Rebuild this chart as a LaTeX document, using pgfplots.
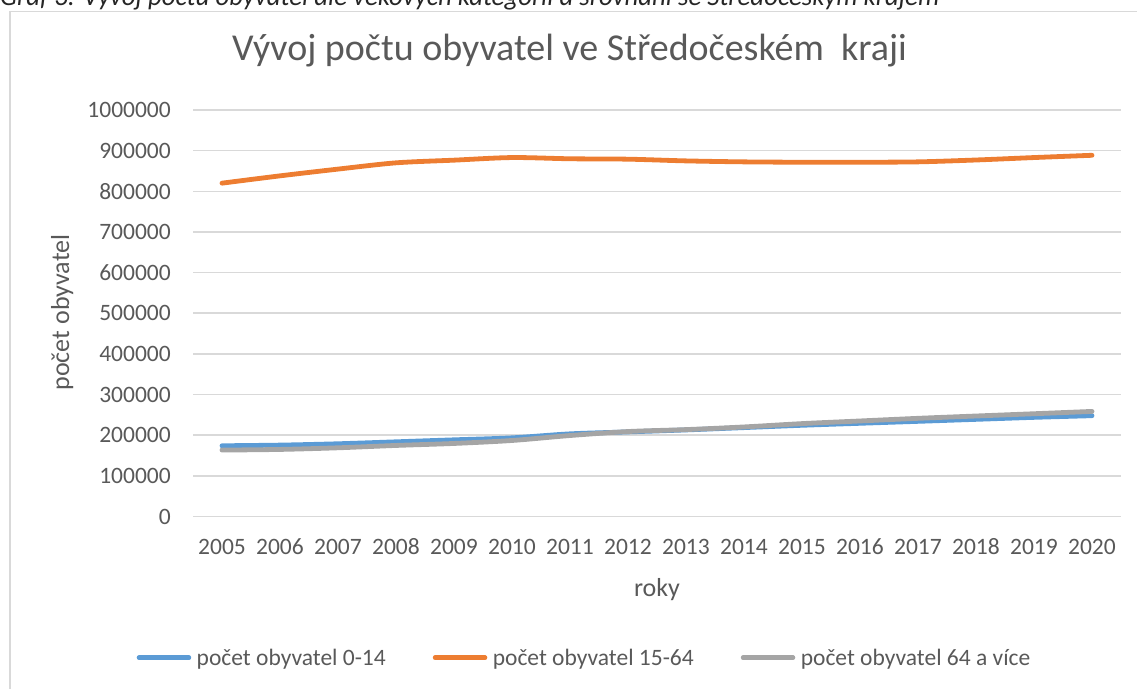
\documentclass[border=0pt]{standalone}
\usepackage{pgfplots}
\pgfplotsset{compat=1.18}
\usepackage{fontspec}
\setmainfont{Carlito}
\definecolor{txt}{HTML}{595959}
\definecolor{gridc}{HTML}{D9D9D9}
\definecolor{sblue}{HTML}{5B9BD5}
\definecolor{sorange}{HTML}{ED7D31}
\definecolor{sgray}{HTML}{A5A5A5}
\begin{document}
\begin{tikzpicture}[x=1pt,y=1pt]
\useasboundingbox (0,0) rectangle (1137,688);
\draw[gridc, line width=1.5pt] (10,-10) -- (10,676.5) -- (1160,676.5);
\node[anchor=base west, inner sep=0pt, font=\fontsize{26.8}{30}\selectfont\itshape, text=black!85] at (0,682.5) {Graf 3: Vývoj počtu obyvatel dle věkových kategorií a srovnání se Středočeským krajem};
\begin{axis}[
  at={(193pt,171.5pt)}, anchor=south west,
  scale only axis, width=928pt, height=406.5pt,
  xmin=2004.5, xmax=2020.5, ymin=0, ymax=1000000,
  xtick={2005,...,2020},
  ytick={0,100000,...,1000000},
  scaled y ticks=false,
  /pgf/number format/assume math mode=true,
  /pgf/number format/1000 sep={},
  /pgf/number format/fixed,
  axis line style={draw=none},
  major tick length=0pt,
  ymajorgrids, grid style={gridc, line width=1.5pt},
  tick label style={font=\fontsize{23.5}{28}\selectfont, text=txt},
  yticklabel style={inner sep=0pt, anchor=east, xshift=-22pt},
  xticklabel style={inner sep=0pt, anchor=base, yshift=-37.5pt},
  title={Vývoj počtu obyvatel ve Středočeském\ \ kraji},
  title style={at={(axis description cs:0.4057,1.1082)}, anchor=base, font=\fontsize{38}{42}\selectfont, text=txt, inner sep=0pt},
  xlabel={roky},
  xlabel style={at={(axis description cs:0.5,-0.198)}, anchor=base, font=\fontsize{26}{30}\selectfont, text=txt, inner sep=0pt},
  ylabel={počet obyvatel},
  ylabel style={at={(axis description cs:-0.1336,0.5018)}, anchor=base, rotate=0, font=\fontsize{26}{30}\selectfont, text=txt, inner sep=0pt},
  legend columns=3,
  legend style={at={(axis description cs:0.4208,-0.3474)}, anchor=center, draw=none, fill=none,
    font=\fontsize{23.5}{28}\selectfont, text=txt,
    nodes={inner sep=0pt},
    /tikz/every odd column/.style={column sep=5.5pt},
    /tikz/every even column/.style={column sep=47pt}},
  legend image code/.code={\draw[#1, line width=4.5pt, line cap=round] (2.25pt,0pt) -- (52.25pt,0pt);},
  every axis plot/.append style={line width=4.8pt, line cap=round, line join=round, smooth, tension=0.5, mark=none},
]
\addplot[sblue] coordinates {
(2005,174000)(2006,175600)(2007,178900)(2008,183700)(2009,188600)(2010,193500)(2011,203300)(2012,208100)
(2013,213000)(2014,218700)(2015,224400)(2016,229300)(2017,234100)(2018,239000)(2019,243900)(2020,248000)};
\addlegendentry{počet obyvatel 0-14}
\addplot[sorange] coordinates {
(2005,820000)(2006,838000)(2007,854600)(2008,870000)(2009,876600)(2010,883000)(2011,880000)(2012,879000)
(2013,874800)(2014,872400)(2015,871500)(2016,871500)(2017,872400)(2018,877000)(2019,883000)(2020,888600)};
\addlegendentry{počet obyvatel 15-64}
\addplot[sgray] coordinates {
(2005,163400)(2006,165000)(2007,169000)(2008,174800)(2009,179700)(2010,187000)(2011,199200)(2012,209000)
(2013,213800)(2014,220300)(2015,228500)(2016,235000)(2017,241500)(2018,247200)(2019,252800)(2020,258500)};
\addlegendentry{počet obyvatel 64 a více}
\end{axis}
\end{tikzpicture}
\end{document}
